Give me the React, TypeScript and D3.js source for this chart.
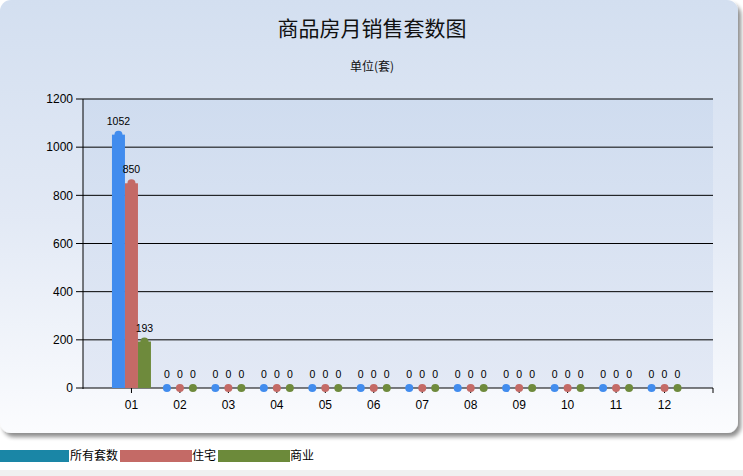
import React from 'react';
import * as d3 from 'd3';

const months = ['01', '02', '03', '04', '05', '06', '07', '08', '09', '10', '11', '12'];
const allUnits = [1052, 0, 0, 0, 0, 0, 0, 0, 0, 0, 0, 0];
const residential = [850, 0, 0, 0, 0, 0, 0, 0, 0, 0, 0, 0];
const commercial = [193, 0, 0, 0, 0, 0, 0, 0, 0, 0, 0, 0];
const yTicks = [0, 200, 400, 600, 800, 1000, 1200];
const seriesNames = ['所有套数', '住宅', '商业'];
const barColors = ['#418CEE', '#C46A66', '#6E8A3C'];
const legendColors = ['#1A86A6', '#C46A66', '#6C8A3A'];

const W = 743;
const H = 476;
const plot = { left: 83, right: 713, top: 99, bottom: 388 };
const numFont = '"Liberation Sans", Arial, sans-serif';
const cjkFont = '"Noto Sans CJK SC", sans-serif';

export default function App() {
  const x = d3.scaleLinear().domain([0, 13]).range([plot.left, plot.right]);
  const y = d3.scaleLinear().domain([0, 1200]).range([plot.bottom, plot.top]);
  const series = [allUnits, residential, commercial];
  const bw = 13;
  const offsets = [-13, 0, 13];

  return (
    <svg width={W} height={H} style={{ position: 'absolute', left: 0, top: 0 }}>
      <defs>
        <linearGradient id="panelG" x1="0" y1="0" x2="0" y2="1">
          <stop offset="0" stopColor="#d3dff0" />
          <stop offset="0.5" stopColor="#e2e9f5" />
          <stop offset="1" stopColor="#fbfcfe" />
        </linearGradient>
        <linearGradient id="plotG" x1="0" y1="0" x2="0" y2="1">
          <stop offset="0" stopColor="#cfdcef" />
          <stop offset="1" stopColor="#e3e9f5" />
        </linearGradient>
        <filter id="shadow" x="-5%" y="-5%" width="110%" height="115%">
          <feGaussianBlur in="SourceAlpha" stdDeviation="2" />
          <feOffset dx="3" dy="4" result="b" />
          <feComponentTransfer><feFuncA type="linear" slope="0.45" /></feComponentTransfer>
          <feMerge><feMergeNode /><feMergeNode in="SourceGraphic" /></feMerge>
        </filter>
      </defs>
      <rect x={0} y={0} width={W} height={H} fill="#ffffff" />
      <rect x={0} y={470} width={W} height={6} fill="#f0f0f0" />
      <rect x={0} y={0} width={738} height={433} rx={11} ry={11} fill="url(#panelG)" filter="url(#shadow)" />

      <text x={372} y={36} textAnchor="middle" fontFamily={cjkFont} fontSize={21} fill="#111">商品房月销售套数图</text>
      <text x={372} y={71} textAnchor="middle" fontFamily={cjkFont} fontSize={12} fill="#111">单位(套)</text>

      <rect x={plot.left} y={plot.top} width={plot.right - plot.left} height={plot.bottom - plot.top} fill="url(#plotG)" />

      {yTicks.map((t) => (
        <g key={t}>
          {t > 0 && <line x1={plot.left} x2={plot.right} y1={y(t)} y2={y(t)} stroke="#000" strokeWidth={1} />}
          <line x1={plot.left - 7} x2={plot.left} y1={y(t)} y2={y(t)} stroke="#000" strokeWidth={1} />
          <text x={plot.left - 10} y={y(t)} dy="0.35em" textAnchor="end" fontFamily={numFont} fontSize={12} fill="#000">{t}</text>
        </g>
      ))}
      <line x1={plot.left} x2={plot.left} y1={plot.top} y2={plot.bottom + 1} stroke="#000" strokeWidth={1} />
      <line x1={plot.left} x2={plot.right} y1={plot.bottom} y2={plot.bottom} stroke="#000" strokeWidth={1} />
      <line x1={plot.right} x2={plot.right} y1={plot.bottom} y2={plot.bottom + 5} stroke="#000" strokeWidth={1} />

      {months.map((m, i) => (
        <g key={m}>
          <line x1={x(i + 1)} x2={x(i + 1)} y1={plot.bottom} y2={plot.bottom + 5} stroke="#000" strokeWidth={1} />
          <text x={x(i + 1)} y={plot.bottom + 21} textAnchor="middle" fontFamily={numFont} fontSize={12} fill="#000">{m}</text>
        </g>
      ))}

      {series.map((vals, s) => (
        <g key={s}>
          {vals.map((v, i) => {
            const cx = x(i + 1) + offsets[s];
            const vy = y(v);
            return (
              <g key={i}>
                {v > 0 && <rect x={cx - bw / 2} y={vy} width={bw} height={plot.bottom - vy} fill={barColors[s]} />}
                <circle cx={cx} cy={vy} r={4} fill={barColors[s]} />
                <text x={cx} y={vy - 10} textAnchor="middle" fontFamily={numFont} fontSize={10.5} fill="#000">{v}</text>
              </g>
            );
          })}
        </g>
      ))}

      {(() => {
        const items = [
          { x: 0, w: 69, tx: 70 },
          { x: 120, w: 72, tx: 192 },
          { x: 218, w: 72, tx: 290 },
        ];
        return items.map((it, k) => (
          <g key={k}>
            <rect x={it.x} y={450} width={it.w} height={12} fill={legendColors[k]} />
            <text x={it.tx} y={456} dy="0.35em" fontFamily={cjkFont} fontSize={12} fill="#000">{seriesNames[k]}</text>
          </g>
        ));
      })()}
    </svg>
  );
}
